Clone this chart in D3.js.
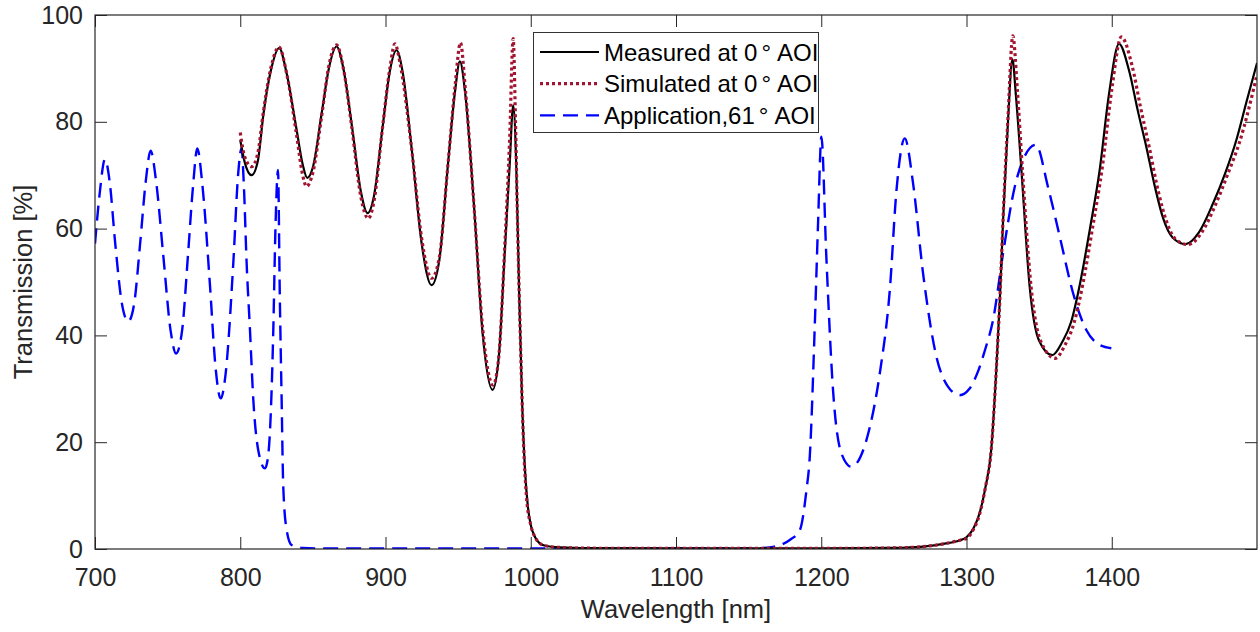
<!DOCTYPE html>
<html>
<head>
<meta charset="utf-8">
<script src="https://cdn.jsdelivr.net/npm/d3@7"></script>
<style>
  html, body { margin: 0; padding: 0; background: #fff; }
  svg { display: block; font-family: "Liberation Sans", Arial, Helvetica, sans-serif; }
</style>
</head>
<body>
<svg id="chart" width="1260" height="632"></svg>
<script>
// ---------------- DATA ----------------
const xTicks = [700, 800, 900, 1000, 1100, 1200, 1300, 1400];
const yTicks = [0, 20, 40, 60, 80, 100];
const seriesNames = ["Measured at 0", "Simulated at 0", "Application,61"];

const measuredNm = [800, 803, 807.8, 812, 816, 821, 826.8, 832, 838.8, 843, 846.1, 850, 856, 861, 866.3, 871, 877, 883, 887.7, 892, 898, 903, 907.6, 912, 918, 925, 931.7, 937, 943, 948, 951.2, 955, 961, 967, 973.7, 978, 982, 985.5, 987.9, 990, 992, 994, 996, 998, 1000, 1003, 1006, 1010, 1020, 1040, 1100, 1200, 1250, 1270, 1285, 1295, 1300, 1305, 1309, 1313, 1317, 1320.6, 1323, 1325.2, 1328.6, 1331.6, 1334, 1337.8, 1343.5, 1350, 1359.1, 1366, 1372, 1378, 1385, 1391.7, 1398, 1405, 1412, 1418, 1423.8, 1430, 1435.3, 1442, 1450.9, 1460, 1469.7, 1478, 1485.8, 1493, 1500];
const measuredT  = [76.6, 72.5, 70.0, 72.5, 81.5, 89.5, 93.8, 89, 78.5, 72, 69.5, 71.5, 81.5, 90, 94.1, 90, 79, 67, 62.9, 66, 79, 89.5, 93.4, 89, 75, 57, 49.4, 54, 72, 86, 91.3, 85, 64, 40, 29.8, 36, 55, 72, 83.1, 72, 48, 28, 15, 8, 4.5, 2.2, 1.1, 0.6, 0.3, 0.15, 0.1, 0.1, 0.2, 0.45, 1.0, 1.6, 2.2, 4, 6.7, 11.5, 18.5, 34, 47, 61.6, 80.3, 91.7, 85, 71, 49.1, 39, 36.3, 38.8, 42.5, 49.5, 60, 71, 85, 94.6, 89.5, 82, 75.3, 67.5, 62, 58.3, 57.1, 59.3, 64.7, 70.3, 76.6, 84, 91];

const simulatedNm = [800, 803, 807.9, 812, 816, 821, 826.6, 832, 838.8, 843, 845.6, 850, 856, 861, 866.3, 871, 877, 883, 888.1, 892, 898, 903, 906.5, 910, 918, 925, 931.7, 937, 943, 948, 951.6, 955, 961, 967, 974.1, 978, 982, 985.5, 987.9, 989.5, 991, 993, 995, 997, 1000, 1003, 1006, 1010, 1020, 1040, 1100, 1200, 1250, 1270, 1285, 1295, 1300, 1305, 1309, 1313, 1317, 1320.6, 1323, 1325.2, 1328.6, 1331.9, 1335, 1338.5, 1344.5, 1351, 1361, 1368, 1374, 1380, 1387, 1393.5, 1400, 1406.6, 1414, 1420, 1426, 1432, 1437.5, 1444, 1452.5, 1462, 1471.5, 1480, 1488, 1500];
const simulatedT  = [78, 73.5, 71.6, 74, 82, 90, 94.0, 89, 77.5, 70, 67.9, 70.5, 81, 90.5, 94.4, 90, 78.5, 66, 61.9, 65, 79, 90, 94.6, 91, 75, 58, 50.7, 54.5, 72, 87, 94.8, 86, 64, 41, 30.7, 36, 56, 77, 95.6, 80, 60, 38, 20, 10, 4.5, 2.2, 1.1, 0.6, 0.3, 0.15, 0.1, 0.1, 0.2, 0.45, 1.0, 1.6, 2.0, 3.8, 6.5, 11.5, 18.5, 34, 47, 62, 81, 96.1, 86, 71, 49, 39, 35.7, 38.3, 42.3, 49.5, 60.5, 71.5, 86, 95.9, 90.5, 82.5, 75, 67, 61.5, 58, 57, 59.3, 64.5, 70.3, 76.2, 88.8];

const applicationNm = [700, 703, 706.9, 710, 714, 718.5, 722.9, 727, 731, 735, 738.3, 742, 747, 752, 755.8, 760, 764, 767.5, 770.4, 774, 779, 783, 786.5, 790, 795.2, 798.5, 800.9, 802.5, 804.4, 806.7, 809, 812.4, 817, 819, 820.4, 822.7, 824.2, 826, 827.2, 828.5, 829.6, 831.9, 835.3, 843, 860, 1150, 1166.8, 1178.3, 1185.2, 1189.8, 1192.1, 1195.6, 1197.8, 1200.1, 1203.5, 1208.1, 1213.9, 1220.7, 1231.1, 1240.3, 1247.2, 1251.8, 1257.5, 1263.2, 1270.1, 1279.3, 1287, 1295.3, 1302, 1308, 1313, 1318.3, 1325.2, 1333.2, 1340, 1347.7, 1356.1, 1364.2, 1373.4, 1382.5, 1390, 1399.7];
const applicationT  = [57.2, 66, 73, 69, 57, 46, 42.6, 46, 57, 69, 74.6, 69, 55, 41, 36.6, 41, 55, 68, 75, 68, 50, 34, 28.2, 33, 53.5, 70, 75, 68, 53.5, 41, 27.9, 18.5, 15.1, 17, 21.7, 40.4, 59.7, 71, 48, 27.9, 11.7, 3.6, 0.75, 0.2, 0.1, 0.1, 0.4, 1.7, 3.5, 11, 17.3, 42.3, 61, 77.2, 54.7, 29.8, 17.9, 15.4, 20.4, 32.9, 48.5, 67.2, 76.9, 68.5, 51.6, 36, 30.5, 28.8, 30, 33.3, 37.5, 42.9, 55.4, 67.8, 73.5, 75.7, 67.8, 58.5, 47.9, 41, 38.5, 37.6];

// ---------------- LAYOUT ----------------
const svg = d3.select("#chart");
const L = 95, R = 1257, T = 15, B = 549;
const x = d3.scaleLinear().domain([700, 1500]).range([L, R]);
const y = d3.scaleLinear().domain([0, 100]).range([B, T]);
const axisColor = "#262626";
const fontFam = '"Liberation Sans", Arial, Helvetica, sans-serif';

svg.append("rect").attr("x", 0).attr("y", 0).attr("width", 1260).attr("height", 632).attr("fill", "#fff");

svg.append("defs").append("clipPath").attr("id", "clip")
  .append("rect").attr("x", L).attr("y", T).attr("width", R - L).attr("height", B - T);

const zip = (xs, ys) => xs.map((v, i) => [v, ys[i]]);
const line = d3.line().x(d => x(d[0])).y(d => y(d[1])).curve(d3.curveMonotoneX);

const plot = svg.append("g").attr("clip-path", "url(#clip)");

const series = [
  { data: zip(applicationNm, applicationT), color: "#0000ff", width: 2.4, dash: "15,8" },
  { data: zip(measuredNm, measuredT), color: "#000000", width: 2.2, dash: null },
  { data: zip(simulatedNm, simulatedT), color: "#a2142f", width: 3.2, dash: "3,3" }
];
series.forEach(s => {
  plot.append("path").datum(s.data)
    .attr("d", line)
    .attr("fill", "none")
    .attr("stroke", s.color)
    .attr("stroke-width", s.width)
    .attr("stroke-dasharray", s.dash)
    .attr("stroke-linejoin", "round");
});

// ---------------- AXES ----------------
function styleAxis(g) {
  g.selectAll(".domain").remove();
  g.selectAll(".tick line").attr("stroke", axisColor).attr("stroke-width", 1);
  g.selectAll(".tick text").attr("fill", axisColor).attr("font-size", 25).attr("font-family", fontFam);
}
svg.append("g").attr("transform", `translate(0,${B})`)
  .call(d3.axisBottom(x).tickValues(xTicks).tickFormat(d3.format("d")).tickSizeInner(-12).tickSizeOuter(0).tickPadding(19))
  .call(styleAxis);
svg.append("g").attr("transform", `translate(0,${T})`)
  .call(d3.axisTop(x).tickValues(xTicks).tickFormat("").tickSizeInner(-12).tickSizeOuter(0))
  .call(styleAxis);
svg.append("g").attr("transform", `translate(${L},0)`)
  .call(d3.axisLeft(y).tickValues(yTicks).tickFormat(d3.format("d")).tickSizeInner(-12).tickSizeOuter(0).tickPadding(12))
  .call(styleAxis);
svg.append("g").attr("transform", `translate(${R},0)`)
  .call(d3.axisRight(y).tickValues(yTicks).tickFormat("").tickSizeInner(-12).tickSizeOuter(0))
  .call(styleAxis);

// box
svg.append("rect").attr("x", L).attr("y", T).attr("width", R - L).attr("height", B - T)
  .attr("fill", "none").attr("stroke", axisColor).attr("stroke-width", 1.2);

// axis labels
svg.append("text").attr("x", (L + R) / 2).attr("y", 618)
  .attr("text-anchor", "middle").attr("font-size", 25.5).attr("fill", axisColor)
  .text("Wavelength [nm]");
svg.append("text").attr("transform", `translate(32,${(T + B) / 2}) rotate(-90)`)
  .attr("text-anchor", "middle").attr("font-size", 25.5).attr("fill", axisColor)
  .text("Transmission [%]");

// ---------------- LEGEND ----------------
const lg = svg.append("g");
lg.append("rect").attr("x", 533.5).attr("y", 32.5).attr("width", 285).attr("height", 100)
  .attr("fill", "#fff").attr("stroke", "#333").attr("stroke-width", 1);
const legendOrder = [series[1], series[2], series[0]];
legendOrder.forEach((s, i) => {
  const cy = 52 + i * 31.7;
  lg.append("line").attr("x1", 540).attr("x2", 599).attr("y1", cy).attr("y2", cy)
    .attr("stroke", s.color).attr("stroke-width", s.width).attr("stroke-dasharray", s.dash);
  const t = lg.append("text").attr("x", 604).attr("y", cy + 8.5)
    .attr("font-size", 24).attr("fill", "#000");
  t.append("tspan").text(seriesNames[i]);
  t.append("tspan").attr("dx", 4).text("°");
  t.append("tspan").attr("dx", 6).text("AOI");
});
</script>
</body>
</html>
